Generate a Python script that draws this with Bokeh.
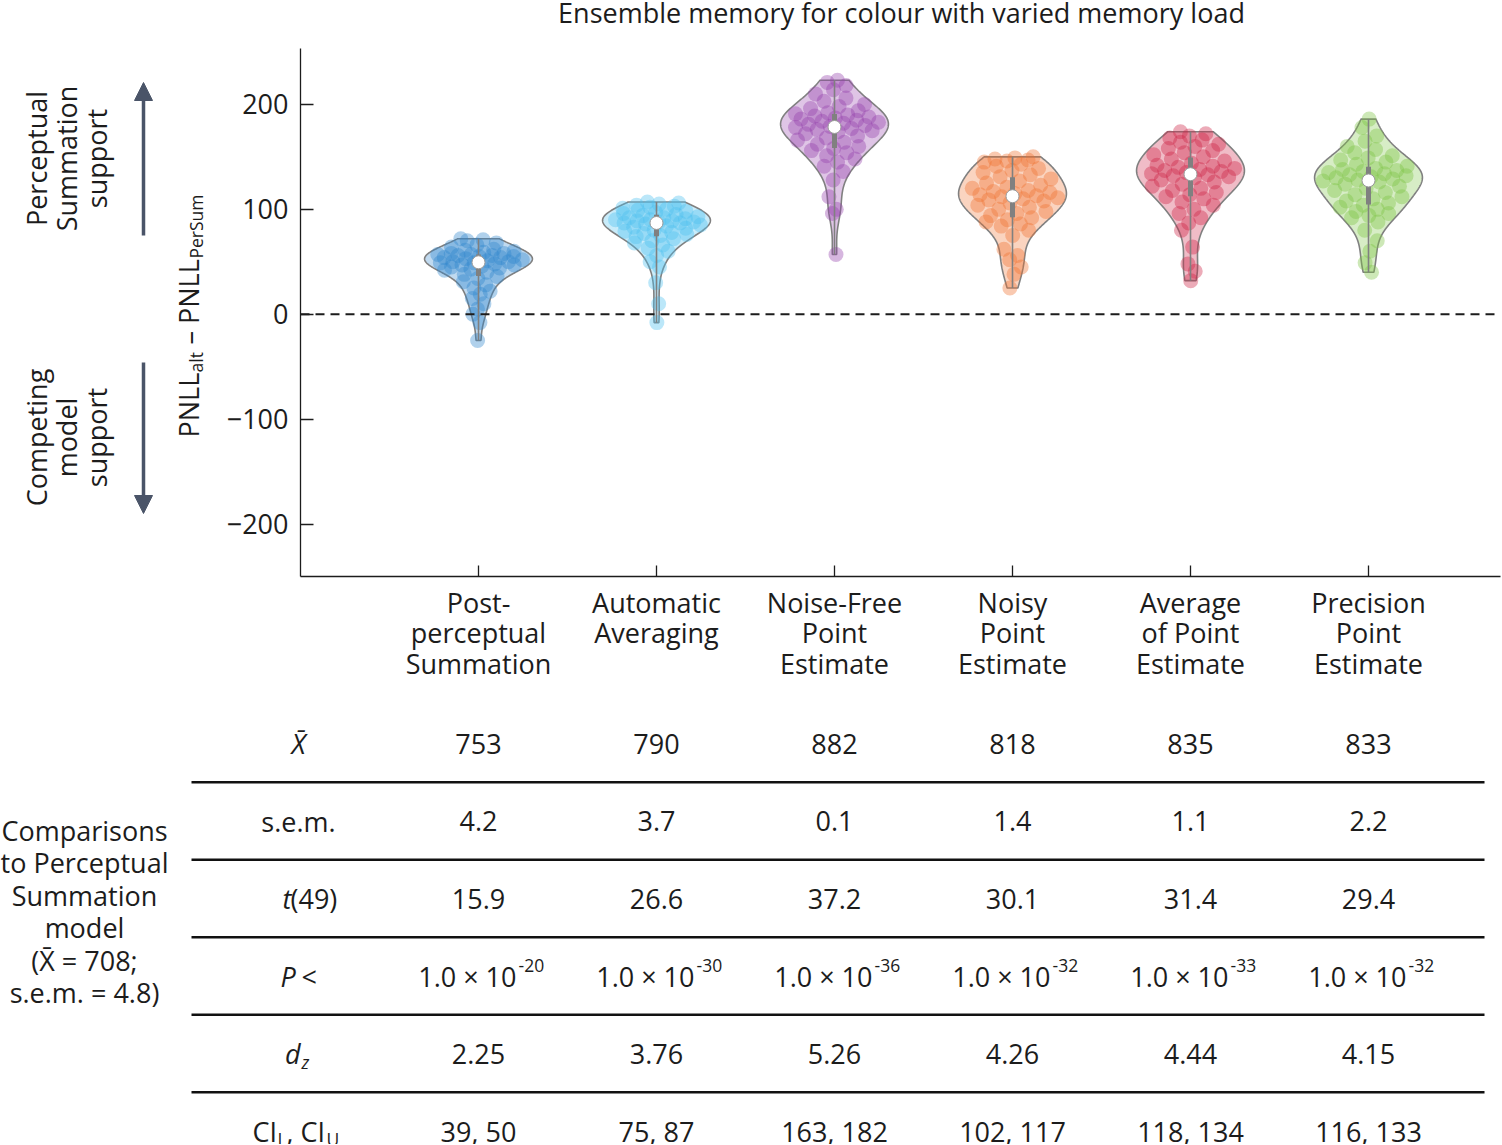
import numpy as np
from bokeh.plotting import figure
from bokeh.models import Range1d, FixedTicker, Span, Arrow, NormalHead
from bokeh.layouts import row
from bokeh.embed import file_html
from bokeh.resources import INLINE
from bokeh.core.properties import value

FONT = "Open Sans"
INK = "#1c1c1c"
FS = "27px"
FS_SMALL = "17.5px"

# ---------------- data ----------------
title_text = "Ensemble memory for colour with varied memory load"
categories = [
    "Post-\nperceptual\nSummation",
    "Automatic\nAveraging",
    "Noise-Free\nPoint\nEstimate",
    "Noisy\nPoint\nEstimate",
    "Average\nof Point\nEstimate",
    "Precision\nPoint\nEstimate",
]
colors = ["#2f86cc", "#4cbfee", "#9440ab", "#f07030", "#cc2244", "#7cc242"]

post_perceptual_summation = [72, 71, 70, 68, 66, 64, 62, 61, 60, 59, 58, 58, 57, 57, 56, 56, 55, 55, 54, 54,
                             53, 52, 51, 50, 50, 49, 49, 48, 47, 47, 46, 45, 44, 43, 42, 40, 38, 36, 34, 31,
                             28, 25, 22, 19, 15, 10, 5, 0, -8, -25]
automatic_averaging = [107, 106, 105, 104, 103, 102, 101, 100, 99, 98, 97, 96, 95, 94, 93, 92, 92, 91, 90, 90,
                       89, 89, 88, 88, 87, 87, 86, 85, 84, 83, 82, 80, 79, 78, 77, 76, 75, 74, 72, 70,
                       68, 66, 63, 60, 56, 50, 45, 30, 10, -8]
noise_free_point_estimate = [223, 221, 218, 214, 210, 206, 203, 200, 198, 196, 194, 192, 191, 190, 189, 188,
                             187, 186, 185, 184, 183, 182, 181, 180, 179, 178, 177, 176, 175, 174, 172, 170,
                             168, 166, 164, 162, 160, 158, 156, 154, 151, 148, 145, 141, 136, 128, 112, 100,
                             96, 57]
noisy_point_estimate = [150, 149, 148, 147, 146, 145, 143, 141, 139, 137, 135, 133, 131, 129, 127, 125, 123,
                        121, 120, 118, 117, 116, 115, 114, 113, 112, 111, 110, 109, 108, 106, 104, 102, 100,
                        98, 96, 94, 92, 90, 88, 86, 84, 80, 75, 62, 56, 52, 45, 38, 25]
average_of_point_estimate = [174, 172, 170, 168, 166, 164, 162, 160, 158, 156, 154, 152, 150, 148, 146, 144,
                             142, 141, 140, 139, 138, 137, 136, 135, 134, 133, 132, 131, 130, 128, 126, 124,
                             122, 120, 118, 116, 114, 112, 110, 107, 104, 100, 96, 92, 87, 80, 64, 48, 41, 32]
precision_point_estimate = [186, 178, 170, 165, 160, 157, 154, 151, 149, 147, 145, 143, 141, 139, 138, 137,
                            136, 135, 134, 133, 132, 131, 130, 129, 128, 127, 126, 124, 122, 120, 118, 116,
                            114, 112, 110, 108, 106, 104, 102, 100, 98, 96, 94, 92, 88, 80, 70, 60, 49, 40]
series = [post_perceptual_summation, automatic_averaging, noise_free_point_estimate,
          noisy_point_estimate, average_of_point_estimate, precision_point_estimate]

y_ticks = [-200, -100, 0, 100, 200]
y_tick_labels = ["\u2212200", "\u2212100", "0", "100", "200"]

mean_x = ["753", "790", "882", "818", "835", "833"]
sem = ["4.2", "3.7", "0.1", "1.4", "1.1", "2.2"]
t_49 = ["15.9", "26.6", "37.2", "30.1", "31.4", "29.4"]
p_mantissa = ["1.0 \u00d7 10"] * 6
p_exponent = ["-20", "-30", "-36", "-32", "-33", "-32"]
d_z = ["2.25", "3.76", "5.26", "4.26", "4.44", "4.15"]
ci_lu = ["39, 50", "75, 87", "163, 182", "102, 117", "118, 134", "116, 133"]
reference_note = ["Comparisons", "to Perceptual", "Summation", "model", "(X\u0304 = 708;", "s.e.m. = 4.8)"]


def bare(fig):
    fig.outline_line_color = None
    fig.xgrid.visible = False
    fig.ygrid.visible = False
    return fig


tf = dict(text_font=value(FONT), text_font_size=FS, text_color=INK, text_align="center",
          text_baseline="middle")

# ---------------- title strip (page y 0..48) ----------------
title_fig = bare(figure(width=1502, height=48, x_range=Range1d(0, 1502), y_range=Range1d(48, 0),
                        output_backend="svg", toolbar_location=None, min_border=0,
                        x_axis_location=None, y_axis_location=None))
title_fig.text(x=[901], y=[12], text=[title_text], **tf)

# ---------------- left annotation strip (page x 0..215, y 48..576 in its frame) ----------------
left = bare(figure(width=215, height=652, x_range=Range1d(0, 215), y_range=Range1d(576, 48),
                   output_backend="svg", toolbar_location=None, min_border_left=0, min_border_right=0,
                   min_border_top=0, min_border_bottom=124, x_axis_location=None, y_axis_location=None))
left.text(x=[66, 66], y=[158, 437], text=["Perceptual\nSummation\nsupport", "Competing\nmodel\nsupport"],
          angle=np.pi / 2, text_line_height=0.80, **tf)
arrow_color = "#4a5468"
for y0, y1 in [(235, 82), (362, 513)]:
    left.add_layout(Arrow(x_start=143, y_start=y0, x_end=143, y_end=y1, line_color=arrow_color,
                          line_width=3.5,
                          end=NormalHead(size=18, fill_color=arrow_color, line_color=arrow_color)))
# y-axis title: PNLL_alt – PNLL_PerSum
ylab_text = ["PNLL", "alt", "\u2013 PNLL", "PerSum"]
ylab_y = [437, 372, 344, 258]
ylab_x = [188, 195, 188, 195]
ylab_fs = [FS, FS_SMALL, FS, FS_SMALL]
for txt, px, py, fs in zip(ylab_text, ylab_x, ylab_y, ylab_fs):
    left.text(x=[px], y=[py], text=[txt], angle=np.pi / 2,
              **{**tf, "text_align": "left", "text_baseline": "alphabetic", "text_font_size": fs})

# ---------------- main violin figure ----------------
p = bare(figure(width=1287, height=652, x_range=Range1d(-1.0, -1.0 + 1200 / 178), y_range=Range1d(-250, 253.3),
                output_backend="svg", toolbar_location=None,
                min_border_left=85, min_border_right=2, min_border_top=0, min_border_bottom=124))
for ax in (p.xaxis[0], p.yaxis[0]):
    ax.axis_line_color = INK
    ax.axis_line_width = 1.3
    ax.major_tick_line_color = INK
    ax.major_tick_line_width = 1.3
    ax.major_tick_out = 0
    ax.minor_tick_line_color = None
    ax.major_label_text_font = FONT
    ax.major_label_text_font_size = FS
    ax.major_label_text_color = INK
p.yaxis.major_label_standoff = 12
p.xaxis.major_label_standoff = 7
p.yaxis.major_tick_in = 13
p.xaxis.major_tick_in = 11
p.yaxis.ticker = FixedTicker(ticks=y_ticks)
p.yaxis.major_label_overrides = dict(zip(y_ticks, y_tick_labels))
p.xaxis.ticker = FixedTicker(ticks=list(range(len(categories))))
p.xaxis.major_label_overrides = {i: c for i, c in enumerate(categories)}
p.xaxis.major_label_text_line_height = 0.83

p.add_layout(Span(location=0, dimension="width", line_color=INK, line_width=2, line_dash="9 6"))

HALF = 0.303
for i, (vals, col) in enumerate(zip(series, colors)):
    v = np.asarray(vals, dtype=float)
    bw = v.std(ddof=1) * len(v) ** (-0.2)
    grid = np.linspace(v.min(), v.max(), 240)
    dens = np.exp(-0.5 * ((grid[:, None] - v[None, :]) / bw) ** 2).sum(axis=1)
    dmax = dens.max()
    w = HALF * dens / dmax
    xs = np.concatenate([i + w, i - w[::-1]])
    ys = np.concatenate([grid, grid[::-1]])
    p.patch(xs, ys, fill_color=col, fill_alpha=0.3, line_color="#808080", line_width=1.6)

    pd_ = np.exp(-0.5 * ((v[:, None] - v[None, :]) / bw) ** 2).sum(axis=1)
    pw = HALF * pd_ / dmax
    u = ((np.arange(len(v)) * 0.6180339887 + 0.31 * i) % 1.0) * 2 - 1
    p.scatter(i + 0.85 * u * pw, v, size=15, fill_color=col, fill_alpha=0.38, line_color=None)

    q1, med, q3 = np.percentile(v, [25, 50, 75])
    p.segment(x0=[i], y0=[v.min()], x1=[i], y1=[v.max()], line_color="#808080", line_width=1.6)
    p.segment(x0=[i], y0=[q1], x1=[i], y1=[q3], line_color="#808080", line_width=5)
    p.scatter([i], [med], size=13, fill_color="white", line_color="#9a9a9a", line_width=1)

# ---------------- table figure (page y 700..1144) ----------------
ROW = 77.5
TH = 444
top = (743 - 700) / ROW
x0 = -478 / 178
t = bare(figure(width=1502, height=TH, x_range=Range1d(x0, x0 + 1502 / 178),
                y_range=Range1d(top - TH / ROW, top), output_backend="svg", toolbar_location=None,
                min_border=0, x_axis_location=None, y_axis_location=None))

cols = list(range(6))
for k, vals_row in enumerate([mean_x, sem, t_49, None, d_z, ci_lu]):
    if vals_row is not None:
        t.text(x=cols, y=[-k] * 6, text=vals_row, **tf)
# P row: mantissa with raised exponent
t.text(x=cols, y=[-3] * 6, text=p_mantissa, x_offset=38, **{**tf, "text_align": "right"})
t.text(x=cols, y=[-3] * 6, text=p_exponent, x_offset=40, y_offset=-11,
       **{**tf, "text_align": "left", "text_font_size": FS_SMALL})

# separating rules
x_left, x_right = (191 - 478) / 178, (1484 - 478) / 178
ys_rule = [-(k + 0.5) for k in range(5)]
t.segment(x0=[x_left] * 5, y0=ys_rule, x1=[x_right] * 5, y1=ys_rule, line_color="#111111", line_width=2.3)

# row headers
hx = (298 - 478) / 178
it = dict(tf, text_font_style="italic")
sub = dict(tf, text_align="left", text_font_size=FS_SMALL)
t.text(x=[hx], y=[0], text=["X\u0304"], **it)
t.text(x=[hx], y=[-1], text=["s.e.m."], **tf)
t.text(x=[hx], y=[-2], text=["t"], x_offset=-16, **{**it, "text_align": "left"})
t.text(x=[hx], y=[-2], text=["(49)"], x_offset=-8, **{**tf, "text_align": "left"})
t.text(x=[hx], y=[-3], text=["P"], x_offset=-18, **{**it, "text_align": "left"})
t.text(x=[hx], y=[-3], text=["<"], x_offset=3, **{**tf, "text_align": "left"})
t.text(x=[hx], y=[-4], text=["d"], x_offset=2, **{**it, "text_align": "right"})
t.text(x=[hx], y=[-4], text=["z"], x_offset=3, y_offset=8, **{**sub, "text_font_style": "italic"})
t.text(x=[hx], y=[-5], text=["CI"], x_offset=-46, **{**tf, "text_align": "left"})
t.text(x=[hx], y=[-5], text=["L"], x_offset=-21, y_offset=8, **sub)
t.text(x=[hx], y=[-5], text=[", CI"], x_offset=-12, **{**tf, "text_align": "left"})
t.text(x=[hx], y=[-5], text=["U"], x_offset=28, y_offset=8, **sub)

# left note
nx = (84 - 478) / 178
t.text(x=[nx], y=[-(911 - 743) / ROW], text=["\n".join(reference_note)], text_line_height=0.88, **tf)

open("out.html", "w").write(file_html([title_fig, row(left, p), t], INLINE))
